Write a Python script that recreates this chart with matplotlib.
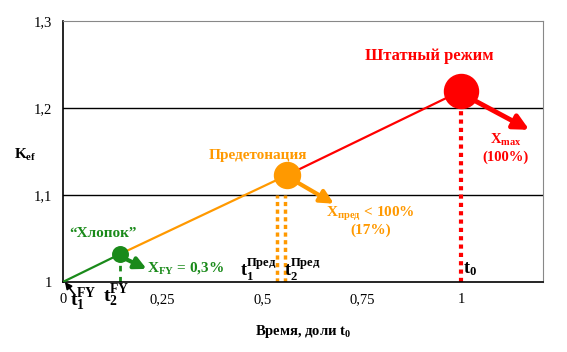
import matplotlib.pyplot as plt

# ==========================
# DATA
# ==========================

time_pts = [0.0, 0.143, 0.563, 1.0]
kef_pts = [1.0, 1.032, 1.123, 1.22]
seg_colors = ["#1a8a1a", "#ff9900", "#ff0000"]

x_ticks = [0, 0.25, 0.5, 0.75, 1]
x_tick_labels = ["0", "0,25", "0,5", "0,75", "1"]
y_ticks = [1.0, 1.1, 1.2, 1.3]
y_tick_labels = ["1", "1,1", "1,2", "1,3"]

green = "#1a8a1a"
orange = "#ff9900"
red = "#ff0000"

plt.rcParams["font.family"] = ["Liberation Serif", "DejaVu Serif"]
plt.rcParams["mathtext.fontset"] = "custom"
plt.rcParams["mathtext.bf"] = "Liberation Serif:bold"
plt.rcParams["mathtext.rm"] = "Liberation Serif"
plt.rcParams["mathtext.it"] = "Liberation Serif:italic"

fig = plt.figure(figsize=(5.67, 3.52), dpi=100)
ax = fig.add_axes([0.111, 0.199, 0.847, 0.741])
ax.set_xlim(0, 1.205)
ax.set_ylim(1.0, 1.3)

# gridlines
for yv in [1.1, 1.2]:
    ax.axhline(yv, color="black", lw=1.0, zorder=1)

# segments
for i in range(3):
    ax.plot(time_pts[i:i + 2], kef_pts[i:i + 2], color=seg_colors[i], lw=1.6, zorder=3)

# vertical markers
ax.plot([0.143, 0.143], [1.0, 1.025], color=green, lw=2, ls=(0, (2, 2)), zorder=2)
ax.plot([0.538, 0.538], [1.0, 1.1], color=orange, lw=2.5, ls=(0, (1.2, 1)), zorder=2)
ax.plot([0.556, 0.556], [1.0, 1.1], color=orange, lw=2.5, ls=(0, (1.2, 1)), zorder=2)
ax.plot([1.0, 1.0], [1.0, 1.2], color=red, lw=3, ls=(0, (1, 1)), zorder=2)

# points
ax.scatter([0.143], [1.032], s=125, color=green, zorder=5)
ax.scatter([0.563], [1.123], s=350, color=orange, zorder=5)
ax.scatter([1.0], [1.22], s=600, color=red, zorder=5)

# arrows
def arrow(x0, y0, x1, y1, c, w, hw):
    ax.annotate("", xy=(x1, y1), xytext=(x0, y0),
                arrowprops=dict(arrowstyle="-|>,head_width=%s,head_length=%s" % (hw, hw * 2),
                                color=c, lw=w, shrinkA=0, shrinkB=0), zorder=6)

arrow(0.15, 1.028, 0.21, 1.015, green, 3, 0.35)
arrow(0.575, 1.118, 0.68, 1.09, orange, 3, 0.4)
arrow(1.015, 1.213, 1.17, 1.175, red, 3.5, 0.45)
arrow(0.03, 0.985, 0.005, 1.0, "black", 1.2, 0.2)

bold = "bold"
# labels
ax.text(0.92, 1.26, "Штатный режим", color=red, fontsize=12, fontweight=bold, ha="center", va="center")
ax.text(0.49, 1.146, "Предетонация", color=orange, fontsize=11, fontweight=bold, ha="center", va="center")
ax.text(0.1, 1.056, "“Хлопок”", color=green, fontsize=11, fontweight=bold, ha="center", va="center")
ax.text(0.21, 1.016, r"X$_{\mathbf{FY}}$ = 0,3%", color=green, fontsize=11, fontweight=bold, ha="left", va="center")
ax.text(0.772, 1.078, r"X$_{\mathbf{пред}}$ < 100%", color=orange, fontsize=11, fontweight=bold, ha="center", va="center")
ax.text(0.772, 1.059, "(17%)", color=orange, fontsize=11, fontweight=bold, ha="center", va="center")
ax.text(1.11, 1.163, r"X$_{\mathbf{max}}$", color=red, fontsize=10.5, fontweight=bold, ha="center", va="center")
ax.text(1.11, 1.143, "(100%)", color=red, fontsize=10.5, fontweight=bold, ha="center", va="center")

ax.text(0.05, 0.98, r"t$_{\mathbf{1}}^{\mathbf{FY}}$", color="black", fontsize=14, fontweight=bold, ha="center", va="center", clip_on=False)
ax.text(0.135, 0.984, r"t$_{\mathbf{2}}^{\mathbf{FY}}$", color="black", fontsize=14, fontweight=bold, ha="center", va="center", clip_on=False)
ax.text(0.49, 1.015, r"t$_{\mathbf{1}}^{\mathbf{Пред}}$", color="black", fontsize=13, fontweight=bold, ha="center", va="center")
ax.text(0.6, 1.015, r"t$_{\mathbf{2}}^{\mathbf{Пред}}$", color="black", fontsize=13, fontweight=bold, ha="center", va="center")
ax.text(1.005, 1.015, r"t$_{\mathbf{0}}$", color="black", fontsize=13, fontweight=bold, ha="left", va="center")

ax.set_xticks(x_ticks)
ax.set_xticklabels(x_tick_labels, fontsize=10.5)
ax.set_yticks(y_ticks)
ax.set_yticklabels(y_tick_labels, fontsize=10.5)
ax.tick_params(length=0, pad=8)

ax.spines["top"].set_color("#888888")
ax.spines["right"].set_color("#888888")
ax.spines["left"].set_linewidth(1.2)
ax.spines["bottom"].set_linewidth(1.2)

ax.set_xlabel(r"Время, доли t$_{\mathbf{0}}$", fontsize=10.5, fontweight=bold, labelpad=12)
fig.text(0.045, 0.56, r"K$_{\mathbf{ef}}$", fontsize=11, fontweight=bold, ha="center", va="center")

fig.savefig("out.png", dpi=100)
